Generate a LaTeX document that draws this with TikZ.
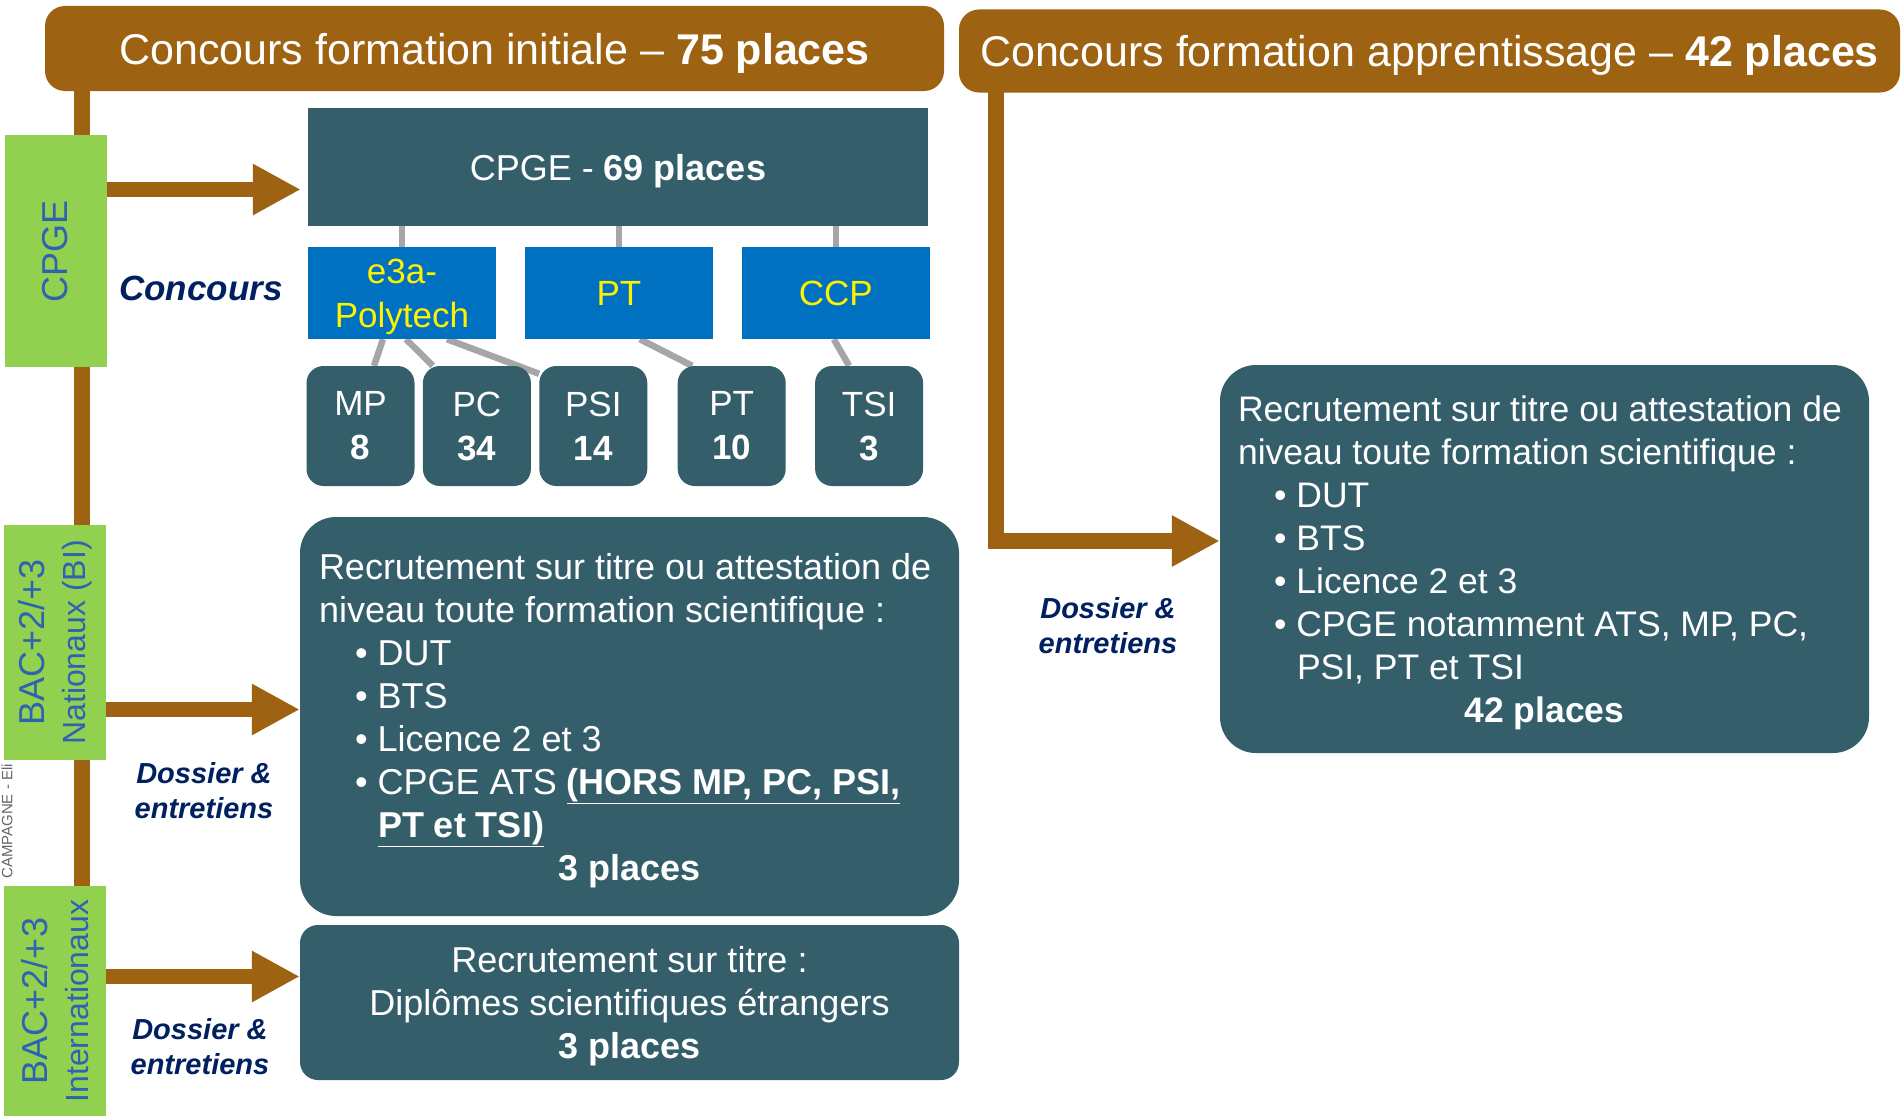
\documentclass[tikz,border=0pt]{standalone}
\usepackage{fontspec}
\setmainfont{Liberation Sans}
\usetikzlibrary{arrows.meta,positioning,backgrounds,calc}

\definecolor{bannerbrown}{RGB}{158,99,18}
\definecolor{petrol}{RGB}{51,94,106}
\definecolor{concblue}{RGB}{0,112,192}
\definecolor{levelgreen}{RGB}{146,208,80}
\definecolor{levelblue}{RGB}{46,99,178}
\definecolor{labelnavy}{RGB}{0,32,96}
\definecolor{linkgray}{RGB}{166,166,166}

\newcommand{\pxfont}[2]{\fontsize{#1}{#2}\selectfont}

\begin{document}
\begin{tikzpicture}[
  x=1pt,y=-1pt,
  every node/.style={inner sep=0pt,align=center},
  banner/.style={fill=bannerbrown,rounded corners=20pt,text=white,text depth=0pt,font=\pxfont{43}{50}},
  levelbox/.style={fill=levelgreen,rotate=90,text=levelblue,minimum height=102pt,font=\pxfont{36}{41}},
  petrolbox/.style={fill=petrol,text=white,font=\pxfont{36}{43}},
  roundbox/.style={petrolbox,rounded corners=36pt,text depth=-4.5pt},
  concbox/.style={fill=concblue,text=yellow,minimum width=188pt,minimum height=92pt,font=\pxfont{35}{44}},
  filiere/.style={petrolbox,rounded corners=17pt,minimum width=108pt,minimum height=120pt,font=\pxfont{35}{44}},
  modelabel/.style={text=labelnavy,font=\pxfont{29}{35}\bfseries\itshape},
  bigarrow/.style={draw=bannerbrown,line width=15.5pt,-{Triangle[length=48pt,width=48pt]}},
  trunk/.style={draw=bannerbrown,line width=16pt},
  graylink/.style={draw=linkgray,line width=6.5pt}
]
\useasboundingbox (0,0) rectangle (1903,1116);

% bandeaux
\node[banner,minimum width=899pt,minimum height=85pt] (initial) at (494.5,48.5) {Concours formation initiale – \textbf{75 places}};
\node[banner,minimum width=941pt,minimum height=83pt] (appr) at (1429.5,51) {Concours formation apprentissage – \textbf{42 places}};

% filigrane
\node[rotate=90,anchor=west,text=black!60,font=\pxfont{15}{17}] (campagne) at (7,879) {CAMPAGNE - Eli};

% origines
\node[levelbox,minimum width=232pt] (cpge) at (55.5,251) {CPGE};
\node[levelbox,minimum width=235pt] (bacnat) at (55,642.5) {BAC+2/+3\\{\pxfont{32}{41}Nationaux (BI)}};
\node[levelbox,minimum width=230pt] (bacint) at (55,1001) {BAC+2/+3\\{\pxfont{32}{41}Internationaux}};

% voie CPGE
\node[petrolbox,text depth=0pt,minimum width=620pt,minimum height=118pt] (cpgebox) at (618,167) {CPGE - \textbf{69 places}};
\node[text=labelnavy,font=\pxfont{35}{42}\bfseries\itshape] (concours) at (201,288) {Concours};
\node[concbox,text depth=0pt] (e3a) at (402,293) {e3a-\\Polytech};
\node[concbox,right=28.5pt of e3a] (ptc) {PT};
\node[concbox,right=28.5pt of ptc] (ccp) {CCP};

\node[filiere] (mp) at (360.5,426) {MP\\\textbf{8}};
\node[filiere,right=8pt of mp] (pc) {PC\\\textbf{34}};
\node[filiere,right=8pt of pc] (psi) {PSI\\\textbf{14}};
\node[filiere,right=30pt of psi] (ptf) {PT\\\textbf{10}};
\node[filiere,right=29pt of ptf] (tsi) {TSI\\\textbf{3}};

% voies sur titre
\node[roundbox,minimum width=659pt,minimum height=399pt,align=left] (bi) at (629.5,716.5) {%
Recrutement sur titre ou attestation de\\
niveau toute formation scientifique :\\
\hspace*{36pt}•\hspace*{10pt}DUT\\
\hspace*{36pt}•\hspace*{10pt}BTS\\
\hspace*{36pt}•\hspace*{10pt}Licence 2 et 3\\
\hspace*{36pt}•\hspace*{10pt}CPGE ATS \textbf{\underline{(HORS MP, PC, PSI,}}\\
\hspace*{59pt}\textbf{\underline{PT et TSI)}}\\
\makebox[621pt][c]{\bfseries 3 places}};
\node[petrolbox,text depth=-4.5pt,rounded corners=18pt,minimum width=659pt,minimum height=155pt] (intl) at (629.5,1002.5) {Recrutement sur titre :\\Diplômes scientifiques étrangers\\\textbf{3 places}};

\node[roundbox,minimum width=649pt,minimum height=388pt,align=left,font=\pxfont{35.5}{43}] (appbox) at (1544.5,559) {%
Recrutement sur titre ou attestation de\\
niveau toute formation scientifique :\\
\hspace*{36pt}•\hspace*{10pt}DUT\\
\hspace*{36pt}•\hspace*{10pt}BTS\\
\hspace*{36pt}•\hspace*{10pt}Licence 2 et 3\\
\hspace*{36pt}•\hspace*{10pt}CPGE notamment ATS, MP, PC,\\
\hspace*{59pt}PSI, PT et TSI\\
\makebox[613pt][c]{\bfseries 42 places}};

\node[modelabel] (dos1) at (204,791) {Dossier \&\\entretiens};
\node[modelabel] (dos2) at (200,1047) {Dossier \&\\entretiens};
\node[modelabel] (dos3) at (1108,626) {Dossier \&\\entretiens};

% fleches
\coordinate (incpge) at ([xshift=-7pt,yshift=-22.5pt]cpgebox.west);
\coordinate (inbi) at ([yshift=7pt]bi.west);
\coordinate (inintl) at ([yshift=26pt]intl.west);
\coordinate (inapp) at ([yshift=18pt]appbox.west);
\draw[bigarrow] (cpge.south |- incpge) -- (incpge);
\draw[bigarrow] (bacnat.south |- inbi) -- (inbi);
\draw[bigarrow] (bacint.south |- inintl) -- (inintl);

\begin{scope}[on background layer]
\coordinate (trunktop) at ([xshift=37.5pt,yshift=10pt]initial.south west);
\coordinate (apprtop) at ([xshift=37pt,yshift=10pt]appr.south west);
\draw[trunk] (trunktop) -- (trunktop |- bacint.west);
\draw[bigarrow] (apprtop) |- (inapp);
\draw[graylink] (e3a.north) -- (e3a.north |- cpgebox.south);
\draw[graylink] (ptc.north) -- (ptc.north |- cpgebox.south);
\draw[graylink] (ccp.north) -- (ccp.north |- cpgebox.south);
\draw[graylink] ([xshift=-19pt]e3a.south) -- ([xshift=13.5pt]mp.north);
\draw[graylink] ([xshift=4pt]e3a.south) -- ([xshift=-44pt]pc.north);
\draw[graylink] ([xshift=45pt]e3a.south) -- ([yshift=-8pt]psi.north west);
\draw[graylink] ([xshift=21pt]ptc.south) -- ([xshift=-39.5pt]ptf.north);
\draw[graylink] ([xshift=-2pt]ccp.south) -- ([xshift=-20pt]tsi.north);
\end{scope}
\end{tikzpicture}
\end{document}
